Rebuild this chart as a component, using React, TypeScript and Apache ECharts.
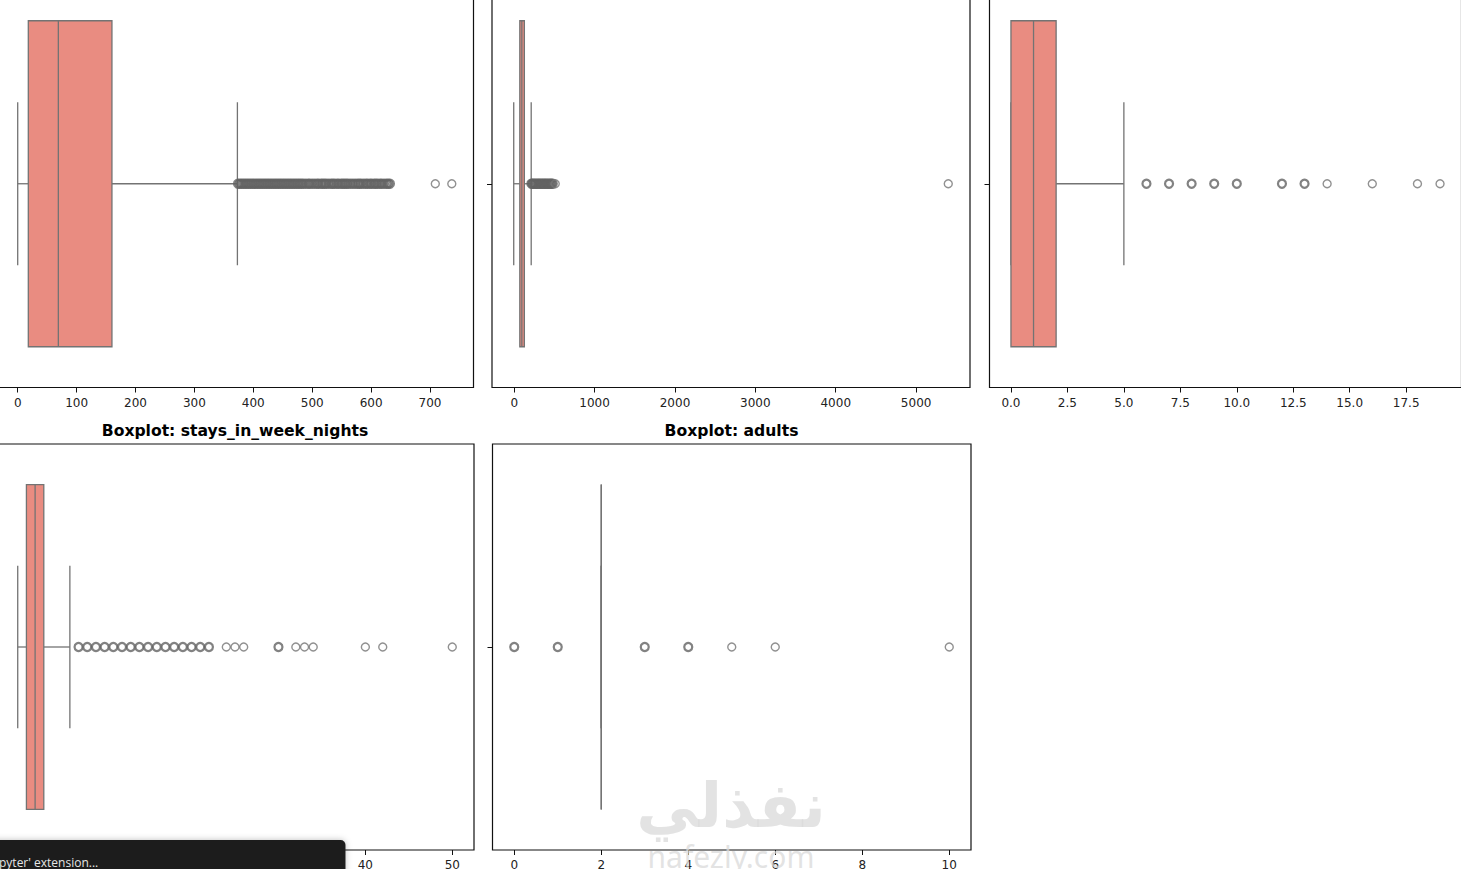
import { useEffect, useRef } from 'react'
import * as echarts from 'echarts'

// five-number summaries: [lower whisker, Q1, median, Q3, upper whisker]
const leadTimeStats = [0, 18, 69, 160, 373]
const adrStats = [-6.38, 69.29, 94.58, 126, 211]
const weekendStats = [0, 0, 1, 2, 5]
const weekStats = [0, 1, 2, 3, 6]
const adultsStats = [2, 2, 2, 2, 2]

// fliers: "dense" ones overlap many times and look darker, "sparse" ones are single rings
const leadTimeDense = [
  374, 377, 380, 383, 386, 389, 392, 395, 398, 401, 404, 407, 410, 413, 416, 419, 422, 425, 428,
  431, 434, 437, 440, 443, 446, 449, 452, 455, 458, 461, 464, 467, 470, 473, 476, 479, 482, 485,
  489, 493, 496, 500, 504, 508, 511, 515, 518, 521, 524, 528, 532, 535, 538, 542, 545, 549, 552,
  555, 558, 561, 565, 569, 573, 577, 580, 583, 587, 591, 594, 598, 601, 605, 608, 611, 615, 618,
  622, 626, 629, 632,
]
const leadTimeSparse = [709, 737]
const adrDense = [213, 225, 240, 255, 270, 285, 300, 315, 330, 345, 360, 375, 390, 405, 420, 435, 450, 465, 480]
const adrSparse = [510, 5400]
const weekendDense = [6, 7, 8, 9, 10, 12, 13]
const weekendSparse = [14, 16, 18, 19]
const weekDense = [7, 8, 9, 10, 11, 12, 13, 14, 15, 16, 17, 18, 19, 20, 21, 22, 30]
const weekSparse = [24, 25, 26, 32, 33, 34, 40, 42, 50]
const adultsDense = [0, 1, 3, 4]
const adultsSparse = [5, 6, 10]

// x tick labels
const leadTimeTicks = [0, 100, 200, 300, 400, 500, 600, 700]
const adrTicks = [0, 1000, 2000, 3000, 4000, 5000]
const weekendTicks = [0, 2.5, 5, 7.5, 10, 12.5, 15, 17.5]
const weekTicks = [0, 10, 20, 30, 40, 50]
const adultsTicks = [0, 2, 4, 6, 8, 10]

const titles = ['Boxplot: stays_in_week_nights', 'Boxplot: adults']

const BOX = '#E98C81'
const LINE = '#737373'

// matplotlib-like layout of the 2x3 subplot grid (top row titles are scrolled off)
const panels = [
  { rect: { left: -4, top: -20, width: 477.5, height: 407.5 }, min: -36.85, max: 773.85, ticks: leadTimeTicks, stats: leadTimeStats, dense: leadTimeDense, sparse: leadTimeSparse, dec: 0 },
  { rect: { left: 492, top: -20, width: 478, height: 407.5 }, min: -276.7, max: 5670.3, ticks: adrTicks, stats: adrStats, dense: adrDense, sparse: adrSparse, dec: 0 },
  { rect: { left: 989.5, top: -20, width: 472, height: 407.5 }, min: -0.95, max: 19.95, ticks: weekendTicks, stats: weekendStats, dense: weekendDense, sparse: weekendSparse, dec: 1 },
  { rect: { left: -4, top: 444, width: 478, height: 406 }, min: -2.5, max: 52.5, ticks: weekTicks, stats: weekStats, dense: weekDense, sparse: weekSparse, dec: 0 },
  { rect: { left: 492.5, top: 444, width: 478.5, height: 406 }, min: -0.5, max: 10.5, ticks: adultsTicks, stats: adultsStats, dense: adultsDense, sparse: adultsSparse, dec: 0 },
]

const FONT = '"DejaVu Sans", sans-serif'

function renderBox(_params: any, api: any) {
  const v = [1, 2, 3, 4, 5].map((d) => api.value(d) as number)
  const p = v.map((x) => api.coord([x, 0]))
  const y = p[0][1]
  const band = api.size([0, 0])[1]
  const half = band * 0.4
  const cap = band * 0.2
  const ls = { stroke: LINE, lineWidth: 1.3 }
  return {
    type: 'group',
    children: [
      { type: 'line', shape: { x1: p[0][0], y1: y, x2: p[1][0], y2: y }, style: ls },
      { type: 'line', shape: { x1: p[3][0], y1: y, x2: p[4][0], y2: y }, style: ls },
      { type: 'line', shape: { x1: p[0][0], y1: y - cap, x2: p[0][0], y2: y + cap }, style: ls },
      { type: 'line', shape: { x1: p[4][0], y1: y - cap, x2: p[4][0], y2: y + cap }, style: ls },
      {
        type: 'rect',
        shape: { x: p[1][0], y: y - half, width: p[3][0] - p[1][0], height: half * 2 },
        style: { fill: BOX, stroke: LINE, lineWidth: 1.3 },
      },
      { type: 'line', shape: { x1: p[2][0], y1: y - half, x2: p[2][0], y2: y + half }, style: ls },
    ],
  }
}

export default function App() {
  const elRef = useRef<HTMLDivElement>(null)

  useEffect(() => {
    if (!elRef.current) return
    const chart = echarts.init(elRef.current, undefined, { renderer: 'svg' })

    const series: any[] = []
    panels.forEach((p, i) => {
      series.push({
        type: 'custom',
        xAxisIndex: i,
        yAxisIndex: i,
        data: [[0, ...p.stats]],
        encode: { y: 0, x: [1, 2, 3, 4, 5] },
        renderItem: renderBox,
        z: 2,
      })
      series.push({
        type: 'scatter',
        xAxisIndex: i,
        yAxisIndex: i,
        data: p.dense.map((v) => [v, 0]),
        symbol: 'circle',
        symbolSize: 8,
        itemStyle: { color: 'rgba(0,0,0,0)', borderColor: '#636363', borderWidth: 2.2 },
        z: 3,
      })
      series.push({
        type: 'scatter',
        xAxisIndex: i,
        yAxisIndex: i,
        data: p.sparse.map((v) => [v, 0]),
        symbol: 'circle',
        symbolSize: 8,
        itemStyle: { color: 'rgba(0,0,0,0)', borderColor: '#757575', borderWidth: 1.4 },
        z: 3,
      })
    })

    chart.setOption({
      animation: false,
      backgroundColor: '#fff',
      grid: panels.map((p) => ({
        ...p.rect,
        show: true,
        borderColor: '#111',
        borderWidth: 1.2,
        containLabel: false,
        outerBoundsMode: 'none',
      })),
      xAxis: panels.map((p, i) => ({
        type: 'value',
        gridIndex: i,
        min: p.min,
        max: p.max,
        axisLine: { show: false, onZero: false },
        splitLine: { show: false },
        axisTick: { show: true, length: 5, customValues: p.ticks, lineStyle: { color: '#111', width: 1 } },
        axisLabel: {
          customValues: p.ticks,
          formatter: (v: number) => v.toFixed(p.dec),
          color: '#222',
          fontSize: 12,
          fontFamily: FONT,
          margin: 9,
        },
      })),
      yAxis: panels.map((_p, i) => ({
        type: 'category',
        gridIndex: i,
        data: [''],
        axisLine: { show: false, onZero: false },
        splitLine: { show: false },
        axisTick: { show: true, alignWithLabel: true, length: 5, lineStyle: { color: '#111', width: 1 } },
        axisLabel: { show: false },
      })),
      series,
      graphic: [
        {
          type: 'text',
          x: 235,
          y: 431,
          style: { text: titles[0], font: `bold 15.6px ${FONT}`, fill: '#000', textAlign: 'center', textVerticalAlign: 'middle' },
          z: 10,
        },
        {
          type: 'text',
          x: 731.5,
          y: 431,
          style: { text: titles[1], font: `bold 15.6px ${FONT}`, fill: '#000', textAlign: 'center', textVerticalAlign: 'middle' },
          z: 10,
        },
        // watermark
        {
          type: 'text',
          x: 731,
          y: 805,
          style: { text: 'نفذلي', font: `bold 62px ${FONT}`, fill: 'rgba(218,218,218,0.75)', textAlign: 'center', textVerticalAlign: 'middle' },
          z: 20,
        },
        {
          type: 'text',
          x: 731,
          y: 856,
          style: { text: 'nafezly.com', font: '30px "Noto Sans", sans-serif', fill: 'rgba(218,218,218,0.75)', textAlign: 'center', textVerticalAlign: 'middle' },
          z: 20,
        },
        // editor toast
        {
          type: 'rect',
          shape: { x: -10, y: 840, width: 355.5, height: 40, r: 5 },
          style: { fill: '#1f1f1f', shadowBlur: 6, shadowColor: 'rgba(0,0,0,0.25)' },
          z: 30,
        },
        {
          type: 'text',
          x: -1,
          y: 862,
          style: { text: "pyter' extension...", font: '12px "Open Sans", sans-serif', fill: '#e6e6e6', textVerticalAlign: 'middle' },
          z: 31,
        },
      ],
    })

    return () => chart.dispose()
  }, [])

  return <div ref={elRef} style={{ position: 'fixed', left: 0, top: 0, width: 1461, height: 869 }} />
}
